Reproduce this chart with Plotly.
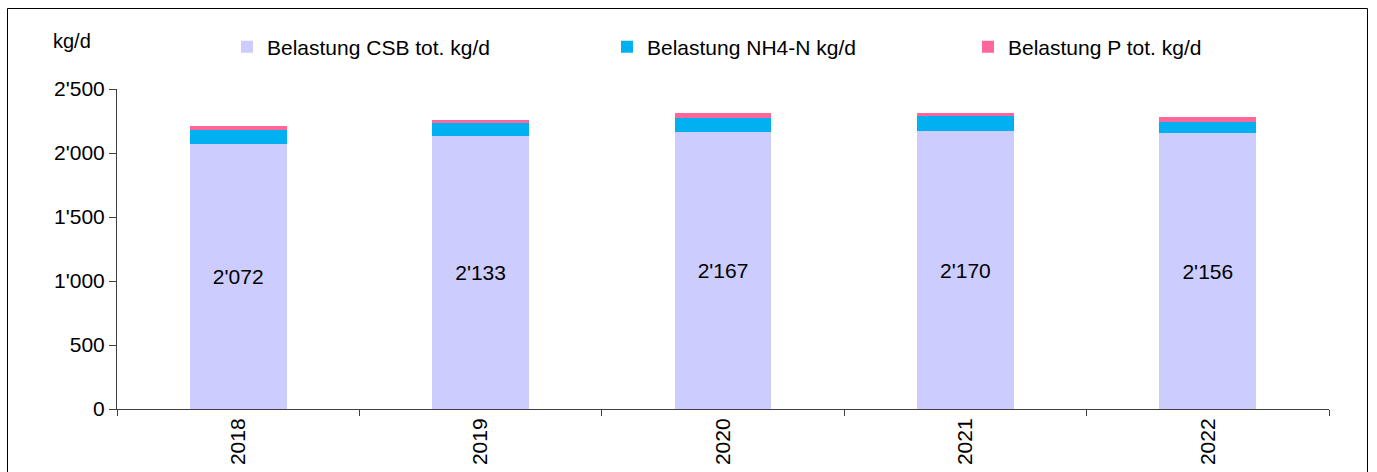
import plotly.graph_objects as go

years = ["2018", "2019", "2020", "2021", "2022"]
csb = [2072, 2133, 2167, 2170, 2156]
nh4 = [107, 104, 106, 117, 88]
p_tot = [34, 21, 36, 23, 34]

names = ["Belastung CSB tot. kg/d", "Belastung NH4-N kg/d", "Belastung P tot. kg/d"]
colors = ["#CCCCFF", "#00B0F0", "#FF6699"]

FONT = "Arial, Liberation Sans, sans-serif"
W, H = 1377, 472
L, R, T, B = 117, 48, 89, 63
PW, PH = W - L - R, H - T - B

def px_x(px):
    return (px - L) / PW

def px_y(py):
    return (H - B - py) / PH

fig = go.Figure()
fig.add_trace(go.Bar(
    x=years, y=csb, name=names[0], marker_color=colors[0], marker_line_width=0,
    texttemplate="%{y:,.0f}", textposition="inside", insidetextanchor="middle",
    textangle=0, textfont=dict(size=21, color="black", family=FONT),
    legend="legend",
))
fig.add_trace(go.Bar(
    x=years, y=nh4, name=names[1], marker_color=colors[1], marker_line_width=0,
    legend="legend2",
))
fig.add_trace(go.Bar(
    x=years, y=p_tot, name=names[2], marker_color=colors[2], marker_line_width=0,
    legend="legend3",
))

leg_common = dict(orientation="h", yanchor="middle", xanchor="left",
                  font=dict(size=21, family=FONT, color="black"),
                  bgcolor="rgba(0,0,0,0)", borderwidth=0)
ly = px_y(47)
fig.update_layout(
    legend=dict(x=px_x(227), y=ly, **leg_common),
    legend2=dict(x=px_x(607), y=ly, **leg_common),
    legend3=dict(x=px_x(968), y=ly, **leg_common),
)

fig.update_layout(
    width=W, height=H,
    margin=dict(l=L, r=R, t=T, b=B, autoexpand=False),
    barmode="stack", bargap=0.6,
    separators=".'",
    paper_bgcolor="white", plot_bgcolor="white",
    font=dict(family=FONT, size=21, color="black"),
    showlegend=True,
    uniformtext=dict(minsize=8, mode="show"),
)
fig.update_yaxes(
    range=[0, 2500], dtick=500, tickformat=",.0f",
    showgrid=False, zeroline=False,
    showline=True, linecolor="#404040", linewidth=1,
    ticks="outside", ticklen=7, tickcolor="#404040",
    tickfont=dict(size=21, family=FONT, color="black"),
)
fig.update_xaxes(
    type="category", showgrid=False, zeroline=False,
    showline=True, linecolor="#404040", linewidth=1,
    ticks="outside", ticklen=6, tickcolor="#404040", tickson="boundaries",
    tickangle=-90, tickfont=dict(size=21, family=FONT, color="black"),
)

fig.add_annotation(
    text="kg/d", xref="paper", yref="paper",
    x=px_x(51), y=px_y(41), xanchor="left", yanchor="middle",
    showarrow=False, font=dict(size=20, family=FONT, color="black"),
)

fig.add_shape(
    type="rect", xref="paper", yref="paper",
    x0=px_x(7.5), x1=px_x(1367.5), y0=px_y(490), y1=px_y(8.5),
    line=dict(color="black", width=1), fillcolor="rgba(0,0,0,0)", layer="above",
)

fig.write_html(
    "out.html",
    config={"displayModeBar": False},
    post_script="document.body.style.margin='0';document.body.style.overflow='hidden';",
)
